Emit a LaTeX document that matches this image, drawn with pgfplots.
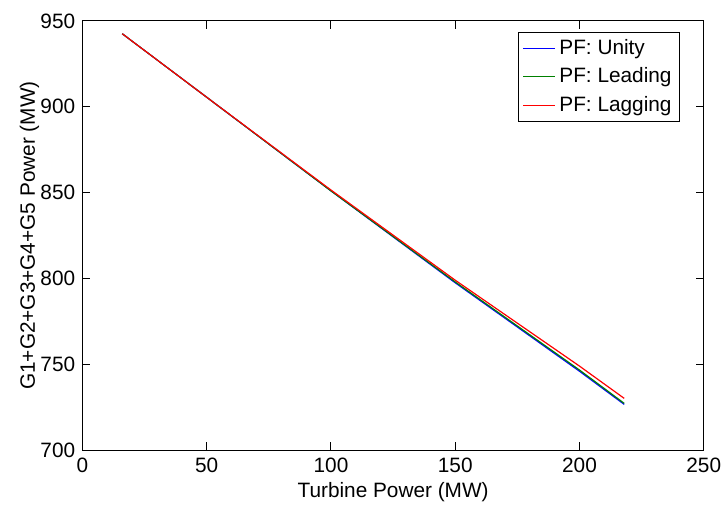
\documentclass[border=0pt]{standalone}
\usepackage{fontspec}
\setmainfont{Liberation Sans}
\usepackage{pgfplots}
\pgfplotsset{compat=1.18}
\definecolor{mblue}{rgb}{0,0,1}
\definecolor{mgreen}{rgb}{0,0.5,0}
\definecolor{mred}{rgb}{1,0,0}
\begin{document}
\fontsize{10.5}{12.6}\selectfont
\begin{tikzpicture}
\begin{axis}[
    scale only axis,
    width=312.5bp,
    height=216bp,
    xmin=0, xmax=250,
    ymin=700, ymax=950,
    xtick={0,50,...,250},
    ytick={700,750,...,950},
    tick align=inside,
    major tick length=4bp,
    axis line style={line width=0.6bp},
    tick style={line width=0.5bp, black},
    /pgf/number format/assume math mode=true,
    ticklabel style={font=\fontsize{10.5}{12.6}\selectfont},
    label style={font=\fontsize{10.5}{12.6}\selectfont},
    xlabel={Turbine Power (MW)},
    ylabel={G1+G2+G3+G4+G5 Power (MW)},
    xlabel style={yshift=2bp},
    ylabel style={yshift=-6.5bp},
    legend style={at={(0.9616,0.9745)}, anchor=north east,
        font=\fontsize{10.5}{12.6}\selectfont,
        inner xsep=2bp, inner ysep=1.5bp, row sep=1.2bp},
    legend cell align=left,
    legend image code/.code={\draw[#1] (0bp,0bp) -- (16bp,0bp);},
]
\addplot[mblue, line width=0.6bp] coordinates {
    (16,942.5) (50,905.5) (100,851) (150,797.5) (200,746) (218,726.7)};
\addlegendentry{PF: Unity}
\addplot[mgreen, line width=0.6bp] coordinates {
    (16,942.5) (50,905.5) (100,851) (150,798) (200,746.7) (218,727.3)};
\addlegendentry{PF: Leading}
\addplot[mred, line width=0.6bp] coordinates {
    (16,942.5) (50,905.5) (100,851.5) (150,799) (200,749) (218,730.2)};
\addlegendentry{PF: Lagging}
\end{axis}
\path (current axis.south west) ++(-41.5bp,-24.5bp) (current axis.north east) ++(10bp,10.5bp);
\end{tikzpicture}
\end{document}
